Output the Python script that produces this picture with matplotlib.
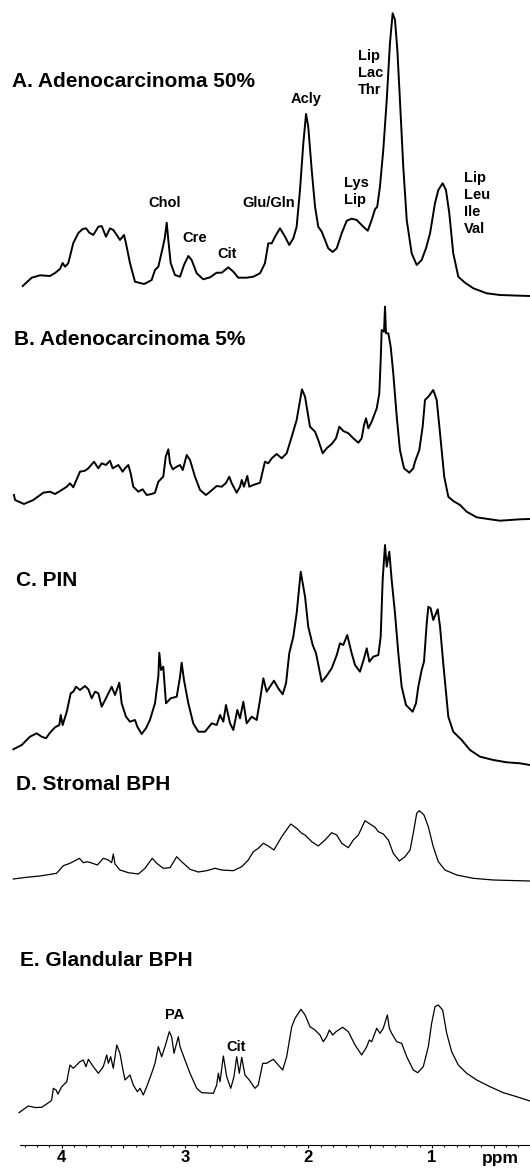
import matplotlib
matplotlib.use("Agg")
import matplotlib.pyplot as plt
import matplotlib.ticker as ticker

plt.rcParams['font.family'] = ['Liberation Sans', 'DejaVu Sans']

# Spectra: chemical shift (ppm) and intensity (a.u.)
a_ppm = [4.316, 4.243, 4.176, 4.095, 4.054, 4.014, 3.992, 3.973, 3.947, 3.906, 3.865, 3.830, 3.803, 3.776,
         3.744, 3.703, 3.676, 3.641, 3.609, 3.582, 3.554, 3.528, 3.495, 3.479, 3.447, 3.406, 3.365, 3.333,
         3.311, 3.271, 3.244, 3.217, 3.182, 3.165, 3.149, 3.136, 3.117, 3.082, 3.041, 3.009, 2.974, 2.947,
         2.906, 2.853, 2.798, 2.744, 2.703, 2.650, 2.609, 2.569, 2.501, 2.447, 2.393, 2.353, 2.326, 2.298,
         2.271, 2.231, 2.190, 2.156, 2.123, 2.096, 2.069, 2.042, 2.020, 2.002, 1.974, 1.947, 1.921, 1.893,
         1.866, 1.840, 1.804, 1.771, 1.731, 1.690, 1.650, 1.609, 1.556, 1.520, 1.488, 1.461, 1.443, 1.421,
         1.394, 1.366, 1.340, 1.318, 1.299, 1.280, 1.259, 1.232, 1.204, 1.164, 1.123, 1.083, 1.048, 1.015,
         0.975, 0.948, 0.913, 0.886, 0.859, 0.827, 0.786, 0.732, 0.664, 0.556, 0.448, 0.286, 0.205]
a_int = [14, 22.3, 24.7, 24, 27, 31, 37, 33.3, 36.7, 57, 67, 71, 71.7, 67.3,
         65, 73.3, 74, 63.3, 71.7, 70, 65, 60, 65, 56.7, 37, 18.3, 17, 16,
         17.3, 20, 30, 33.3, 52, 61.7, 77.3, 60, 37, 25, 23.3, 35, 44, 40,
         26.7, 20.7, 22.7, 27.3, 27.3, 32.7, 28.3, 22.3, 22.3, 23.3, 26.7, 36.7, 56.7, 56.7,
         63.3, 71.7, 63.3, 55, 61.7, 73.3, 110, 156.7, 186, 173.3, 130, 93.3, 73.3, 68.3,
         60, 51.7, 48, 51.7, 66.7, 79.3, 81.3, 80, 73.3, 69.3, 80, 90.7, 93.3, 113.3,
         150, 200, 256.7, 286.7, 280, 250, 200, 133.3, 80, 46.7, 35, 40, 51.7, 66.7,
         96.7, 110, 116.7, 110, 86.7, 46.7, 23.3, 17.3, 11.7, 6.7, 5, 4.3, 4]

b_ppm = [4.387, 4.378, 4.306, 4.230, 4.149, 4.095, 4.054, 4.000, 3.959, 3.933, 3.906, 3.852, 3.811, 3.784,
         3.738, 3.703, 3.676, 3.641, 3.609, 3.587, 3.541, 3.506, 3.487, 3.460, 3.441, 3.420, 3.379, 3.344,
         3.311, 3.271, 3.244, 3.217, 3.177, 3.157, 3.136, 3.122, 3.100, 3.068, 3.041, 3.019, 2.987, 2.960,
         2.920, 2.879, 2.831, 2.798, 2.744, 2.703, 2.669, 2.642, 2.622, 2.582, 2.555, 2.541, 2.523, 2.496,
         2.480, 2.447, 2.393, 2.353, 2.326, 2.298, 2.258, 2.217, 2.177, 2.136, 2.096, 2.053, 2.028, 1.988,
         1.947, 1.921, 1.885, 1.853, 1.812, 1.777, 1.750, 1.718, 1.677, 1.637, 1.596, 1.569, 1.550, 1.534,
         1.515, 1.488, 1.447, 1.426, 1.415, 1.407, 1.388, 1.380, 1.372, 1.353, 1.334, 1.313, 1.285, 1.259,
         1.226, 1.183, 1.151, 1.137, 1.102, 1.075, 1.056, 1.029, 0.989, 0.961, 0.934, 0.900, 0.867, 0.827,
         0.772, 0.718, 0.637, 0.529, 0.448, 0.286, 0.205]
b_int = [30, 25, 21, 25, 32.3, 33.3, 31, 35, 38.3, 41.7, 37.7, 53.3, 54.3, 56.7,
         63.3, 56.7, 61.7, 60, 64.3, 56.7, 60, 53.3, 56.7, 60, 51.7, 38.3, 33.3, 35.7,
         30, 31, 32.3, 43.3, 48.3, 68.3, 75.7, 61.7, 55.7, 58.3, 60, 55, 70, 65,
         48.3, 35, 30, 33.3, 39, 38.3, 42, 48.3, 41.7, 32.3, 38.3, 45, 38.3, 49,
         38.3, 40, 42.3, 63.3, 61.7, 66.7, 71, 66.7, 71.7, 88.3, 105, 135.7, 128.3, 98.3,
         93.3, 85, 71.7, 76.7, 81, 86.7, 98.3, 94, 91.7, 86.7, 82.3, 86.7, 100, 106.7,
         96.7, 103.3, 116.7, 131.7, 165, 195, 193.3, 218.3, 191.7, 191.7, 178.3, 151.7, 108.3, 75,
         56.7, 52.3, 56.7, 63.3, 75, 98.3, 125, 128.3, 135, 125, 91.7, 48.3, 28.3, 24,
         20, 13.3, 7.7, 5.7, 4.3, 5.7, 6]

c_ppm = [4.392, 4.324, 4.257, 4.203, 4.162, 4.127, 4.095, 4.054, 4.019, 4.008, 3.992, 3.959, 3.927, 3.906,
         3.884, 3.852, 3.811, 3.784, 3.757, 3.730, 3.703, 3.676, 3.635, 3.595, 3.568, 3.533, 3.514, 3.479,
         3.447, 3.406, 3.387, 3.352, 3.317, 3.285, 3.244, 3.217, 3.209, 3.195, 3.177, 3.155, 3.117, 3.068,
         3.041, 3.028, 3.009, 2.974, 2.934, 2.893, 2.839, 2.784, 2.744, 2.717, 2.690, 2.669, 2.636, 2.609,
         2.577, 2.555, 2.528, 2.501, 2.460, 2.420, 2.393, 2.366, 2.339, 2.280, 2.245, 2.209, 2.182, 2.156,
         2.123, 2.096, 2.063, 2.028, 2.002, 1.966, 1.939, 1.893, 1.858, 1.812, 1.771, 1.745, 1.718, 1.686,
         1.650, 1.623, 1.583, 1.550, 1.528, 1.507, 1.475, 1.434, 1.415, 1.399, 1.380, 1.366, 1.345, 1.326,
         1.299, 1.272, 1.245, 1.210, 1.156, 1.129, 1.110, 1.083, 1.064, 1.042, 1.029, 1.010, 0.989, 0.953,
         0.934, 0.908, 0.867, 0.827, 0.759, 0.691, 0.610, 0.502, 0.394, 0.286, 0.205]
c_int = [20.7, 25, 33.3, 36.7, 33.3, 31.7, 37.3, 42.7, 45, 55, 45, 58.3, 76.7, 78.3,
         83.3, 80, 84, 80.7, 71.7, 78.3, 76.7, 63.3, 73.3, 83.3, 75, 87.3, 66.7, 53.3,
         48.3, 50, 43.3, 36, 41.7, 50, 66.7, 93.3, 117.3, 100, 103.3, 66.7, 71.7, 73.3,
         93.3, 107.3, 90, 66.7, 46.7, 38.3, 38.3, 46.7, 45, 55, 48.3, 65, 46.7, 40,
         60, 51.7, 68.3, 46.7, 53.3, 50, 70, 91.7, 78.3, 89.3, 81.7, 75.7, 86.7, 116.7,
         133.3, 156.7, 198.3, 173.3, 143.3, 125, 116.7, 88.3, 93.3, 101.7, 115, 126.7, 125, 135,
         116.7, 105, 98.3, 111.7, 121.7, 108.3, 113.3, 115, 133.3, 190, 225, 203.3, 218.3, 190,
         156.7, 116.7, 83.3, 65, 58.3, 66.7, 83.3, 100, 108.3, 146.7, 163.3, 161.7, 150, 160.7,
         143.3, 106.7, 53.3, 38.3, 30, 20, 13.3, 10, 7.7, 6.7, 5]

d_ppm = [4.392, 4.284, 4.176, 4.041, 3.987, 3.933, 3.892, 3.857, 3.825, 3.793, 3.749, 3.711, 3.663, 3.622,
         3.595, 3.582, 3.568, 3.528, 3.460, 3.379, 3.325, 3.266, 3.230, 3.177, 3.122, 3.068, 3.028, 2.960,
         2.893, 2.825, 2.758, 2.703, 2.609, 2.541, 2.488, 2.447, 2.407, 2.366, 2.326, 2.280, 2.217, 2.144,
         2.096, 2.055, 2.028, 1.974, 1.921, 1.866, 1.812, 1.771, 1.731, 1.677, 1.637, 1.596, 1.542, 1.502,
         1.461, 1.434, 1.394, 1.353, 1.313, 1.264, 1.218, 1.177, 1.151, 1.123, 1.102, 1.064, 1.029, 0.989,
         0.948, 0.894, 0.799, 0.665, 0.502, 0.300, 0.205]
d_int = [6, 7.7, 9, 11.7, 19.3, 21.7, 24.3, 26.7, 22.3, 23.3, 21.7, 20, 26.7, 25,
         22.3, 31, 21, 15, 12.3, 11, 16.7, 26.7, 21.7, 16.7, 17.3, 28.3, 23.3, 15.7,
         13, 14.3, 16.7, 15, 14.3, 18.3, 25, 33.3, 36.7, 41.7, 39, 35, 48.3, 61,
         56.7, 51.7, 50, 43.3, 39, 45, 52.3, 50, 41.7, 37.3, 45, 50, 64.3, 61,
         57.7, 53.3, 51, 45, 31.7, 24, 28.3, 35, 51.7, 71.7, 74.3, 70, 58.3, 38.3,
         23.3, 15, 10, 6.7, 5, 4.3, 4]

e_ppm = [4.346, 4.271, 4.216, 4.162, 4.095, 4.081, 4.068, 4.046, 4.030, 4.000, 3.959, 3.933, 3.906, 3.852,
         3.825, 3.803, 3.784, 3.744, 3.703, 3.663, 3.635, 3.622, 3.603, 3.582, 3.554, 3.528, 3.506, 3.487,
         3.447, 3.420, 3.387, 3.365, 3.339, 3.311, 3.271, 3.244, 3.217, 3.190, 3.163, 3.128, 3.109, 3.090,
         3.055, 3.041, 3.001, 2.960, 2.906, 2.866, 2.771, 2.744, 2.731, 2.717, 2.690, 2.663, 2.630, 2.604,
         2.582, 2.561, 2.541, 2.515, 2.480, 2.434, 2.407, 2.371, 2.339, 2.285, 2.245, 2.209, 2.177, 2.136,
         2.109, 2.061, 2.028, 1.988, 1.947, 1.907, 1.880, 1.853, 1.831, 1.804, 1.777, 1.723, 1.677, 1.623,
         1.569, 1.528, 1.507, 1.488, 1.447, 1.421, 1.394, 1.361, 1.345, 1.326, 1.285, 1.245, 1.204, 1.151,
         1.115, 1.070, 1.029, 1.002, 0.975, 0.948, 0.913, 0.880, 0.840, 0.786, 0.718, 0.637, 0.529, 0.421,
         0.313, 0.205]
e_int = [2.3, 9, 7.5, 7.7, 13.3, 15, 26.7, 25, 21, 28.3, 33.3, 50, 46.7, 53.3,
         55, 48.3, 55.7, 48.3, 41.7, 48.3, 60, 51.7, 58.3, 46.7, 70, 61.7, 46.7, 35,
         40, 30, 23.3, 26.7, 20, 28.3, 41.7, 51.7, 68.3, 58.3, 68.3, 83.3, 78.3, 61.7,
         78.3, 68.3, 55, 41.7, 26.7, 22.3, 21.7, 30, 41.7, 33.3, 59, 38.3, 26.7, 38.3,
         58.3, 41.7, 57.7, 40, 35, 26.7, 30, 51.7, 51.7, 55.7, 50, 45, 58.3, 88.3,
         96.7, 105.7, 100, 88.3, 85, 80, 73.3, 78.3, 85, 80, 83.3, 87.7, 83.3, 70,
         60, 68.3, 75, 73.3, 86.7, 81.7, 86.7, 100, 86.7, 81.7, 73.3, 71.7, 58.3, 45,
         42.3, 48.3, 68.3, 91.7, 108.3, 110, 105, 81.7, 63.3, 50, 41.7, 35, 28.3, 22.3,
         18.3, 14]

titles = ["A. Adenocarcinoma 50%", "B. Adenocarcinoma 5%", "C. PIN",
          "D. Stromal BPH", "E. Glandular BPH"]

# peak assignments
a_peaks = ["Chol", "Cre", "Cit", "Glu/Gln", "Acly"]
a_peak_ppm = [3.163, 2.920, 2.661, 2.320, 2.020]
a_peak_int = [93.3, 57.7, 42.3, 93.3, 197.3]
a_multi = ["Lys\nLip", "Lip\nLac\nThr", "Lip\nLeu\nIle\nVal"]
a_multi_ppm = [1.712, 1.596, 0.738]
a_multi_int = [124.3, 250.7, 129.3]
e_peaks = ["PA", "Cit"]
e_peak_ppm = [3.082, 2.587]
e_peak_int = [95.7, 64]

W, H = 530, 1172
fig = plt.figure(figsize=(W / 100, H / 100), dpi=100)
XL = (4.5, 0.205)

# panel layout in pixels: (floor, top), title (left, baseline), line width
panels = [
    (a_ppm, a_int, 300, 0, 12, 87, 1.4),
    (b_ppm, b_int, 525, 300, 14, 345, 1.4),
    (c_ppm, c_int, 770, 530, 16.5, 585.7, 1.4),
    (d_ppm, d_int, 885, 790, 16, 790, 0.9),
    (e_ppm, e_int, 1115, 940, 20, 965.5, 0.9),
]

axes = []
for (x, y, floor, top, tx, ty, lw), title in zip(panels, titles):
    ax = fig.add_axes([0, 1 - floor / H, 1, (floor - top) / H])
    ax.plot(x, y, color="black", lw=lw, clip_on=False)
    ax.set_xlim(*XL)
    ax.set_ylim(0, floor - top)
    ax.axis("off")
    fig.text(tx / W, 1 - ty / H, title, ha="left", va="baseline",
             fontsize=15, fontweight="bold")
    axes.append(ax)

lab = dict(fontsize=10.5, fontweight="bold", ha="center", va="baseline")
for t, px, iy in zip(a_peaks, a_peak_ppm, a_peak_int):
    axes[0].text(px, iy, t, **lab)
for t, px, iy in zip(a_multi, a_multi_ppm, a_multi_int):
    axes[0].text(px, iy, t, fontsize=10.5, fontweight="bold", ha="left",
                 va="top", linespacing=1.28)
for t, px, iy in zip(e_peaks, e_peak_ppm, e_peak_int):
    axes[4].text(px, iy, t, **lab)

# shared ppm scale
axx = fig.add_axes([0, 1 - 1145 / H, 1, 0.01])
axx.set_xlim(*XL)
axx.set_yticks([])
for s in ["top", "left", "right"]:
    axx.spines[s].set_visible(False)
axx.patch.set_visible(False)
axx.spines["bottom"].set_bounds(4.34, 0.205)
axx.spines["bottom"].set_linewidth(0.8)
axx.xaxis.set_major_locator(ticker.FixedLocator([4.0, 3.5, 3.0, 2.5, 2.0, 1.5, 1.0, 0.5]))
axx.xaxis.set_minor_locator(ticker.FixedLocator([v / 10 for v in range(3, 44)]))
axx.xaxis.set_major_formatter(ticker.FuncFormatter(
    lambda v, _: "{:.0f}".format(v) if abs(v - round(v)) < 1e-6 else ""))
axx.tick_params(axis="x", which="major", direction="out", length=2.4, width=0.8,
                pad=1.5, labelsize=12)
axx.tick_params(axis="x", which="minor", direction="out", length=1.4, width=0.8)
for t in axx.get_xticklabels():
    t.set_fontweight("bold")
fig.text(500 / W, 1 - 1163.5 / H, "ppm", ha="center", va="baseline",
         fontsize=12.5, fontweight="bold")

fig.savefig("out.png", dpi=100)
